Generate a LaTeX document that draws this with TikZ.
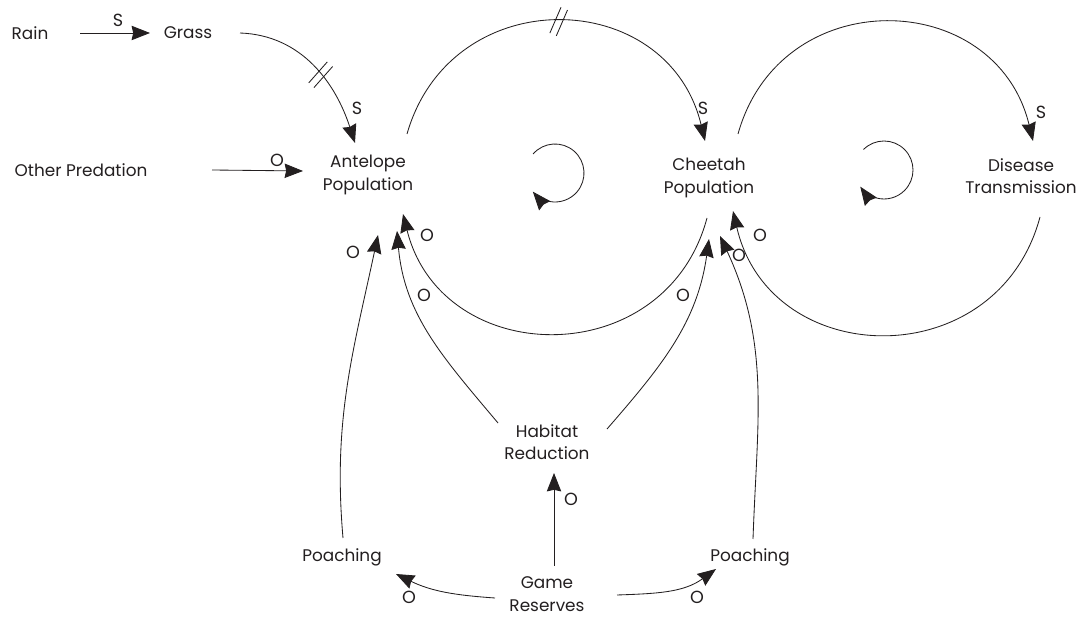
\documentclass[tikz,border=0pt]{standalone}
\usepackage{fontspec}
\setmainfont{Poppins}
\usetikzlibrary{arrows.meta,decorations.markings}
\definecolor{inkgrey}{RGB}{35, 31, 32}

\tikzset{
  var/.style={align=center, font=\fontsize{12}{16}\selectfont, text=inkgrey, inner sep=0pt},
  sign/.style={font=\fontsize{12.5}{14}\selectfont, text=inkgrey, inner sep=0pt},
  link/.style={-{Stealth[length=4.6mm, width=3.6mm, inset=0.4mm]}, line width=0.6pt, draw=inkgrey},
  delay/.style 2 args={postaction={decorate, decoration={markings,
      mark=at position #1 with {\draw[-, rotate=#2, line width=0.6pt, draw=inkgrey]
        (-2.5pt,-10pt) -- (-2.5pt,10pt) (2.5pt,-10pt) -- (2.5pt,10pt);}}}}
}

\begin{document}
\begin{tikzpicture}[x=0.025cm, y=0.025cm]
        \useasboundingbox (0,0) rectangle (1083,617);

        % variables
        \node[var] (rain)  at (30,584)  {Rain};
        \node[var] (grass) at (188,584) {Grass};
        \node[var] (other) at (81,447)  {Other Predation};
        \node[var] (ante)  at (368,442) {Antelope\\Population};
        \node[var] (chee)  at (709,439) {Cheetah\\Population};
        \node[var] (dis)   at (1021,441) {Disease\\Transmission};
        \node[var] (hab)   at (547,175) {Habitat\\Reduction};
        \node[var] (poal)  at (342,60)  {Poaching};
        \node[var] (poar)  at (750,60)  {Poaching};
        \node[var] (game)  at (547,23)  {Game\\Reserves};

        % loop centres
        \coordinate (loopA) at (555,444);
        \coordinate (loopB) at (884,447);

        % links into antelope
        \draw[link] ([shift={(50,0)}]rain.center) -- ([shift={(-38,0)}]grass.center);
        \draw[link, delay={0.55}{10}] ([shift={(52,0)}]grass.center)
          to[out=-2, in=108] ([shift={(-13,32)}]ante.center);
        \draw[link] ([shift={(131,0)}]other.center) -- ([shift={(-65,4)}]ante.center);

        % the two big loops
        \draw[link, delay={0.5}{-22}] ([shift={(39,41)}]ante.center)
          to[out=74, in=103.5, looseness=1.37] ([shift={(-4,37)}]chee.center);
        \draw[link] ([shift={(-2,-40)}]chee.center)
          to[out=-105, in=-76, looseness=1.35] ([shift={(35,-39)}]ante.center);
        \draw[link] ([shift={(29,44)}]chee.center)
          to[out=74.4, in=103.6, looseness=1.37] ([shift={(12,35)}]dis.center);
        \draw[link] ([shift={(19,-41)}]dis.center)
          to[out=-105, in=-77, looseness=1.37] ([shift={(24,-33)}]chee.center);

        \draw[link] ([shift={(139:29)}]loopA) arc[start angle=139, end angle=-140, radius=29];
        \draw[link] ([shift={(135:29)}]loopB) arc[start angle=135, end angle=-145, radius=29];

        % links from below
        \draw[link] ([shift={(1,19)}]poal.center) to[out=95, in=-102] ([shift={(10,-60)}]ante.center);
        \draw[link] ([shift={(-49,19)}]hab.center) to[out=130, in=-85] ([shift={(29,-56)}]ante.center);
        \draw[link] ([shift={(60,13)}]hab.center) to[out=49, in=-98] ([shift={(0,-61)}]chee.center);
        \draw[link] ([shift={(3,18)}]poar.center) to[out=88, in=-65] ([shift={(11,-58)}]chee.center);
        \draw[link] ([shift={(7,28)}]game.center) -- ([shift={(7,-31)}]hab.center);
        \draw[link] ([shift={(-52,-4)}]game.center) to[out=176, in=-26] ([shift={(54,-17)}]poal.center);
        \draw[link] ([shift={(70,-1)}]game.center) to[out=2, in=-144] ([shift={(-34,-12)}]poar.center);

        % polarity signs
        \node[sign] (sRG) at (118,597) {S};
        \node[sign] (sGA) at (357,509) {S};
        \node[sign] (oOA) at (277,457) {O};
        \node[sign] (sAC) at (703,509) {S};
        \node[sign] (sCD) at (1041,505) {S};
        \node[sign] (oCA) at (427,382) {O};
        \node[sign] (oDC) at (760,382) {O};
        \node[sign] (oPA) at (353,365) {O};
        \node[sign] (oHA) at (424,322) {O};
        \node[sign] (oHC) at (683,322) {O};
        \node[sign] (oPC) at (739,362) {O};
        \node[sign] (oGH) at (571,118) {O};
        \node[sign] (oGP) at (409,20)  {O};
        \node[sign] (oGQ) at (697,20)  {O};
      \end{tikzpicture}
\end{document}
